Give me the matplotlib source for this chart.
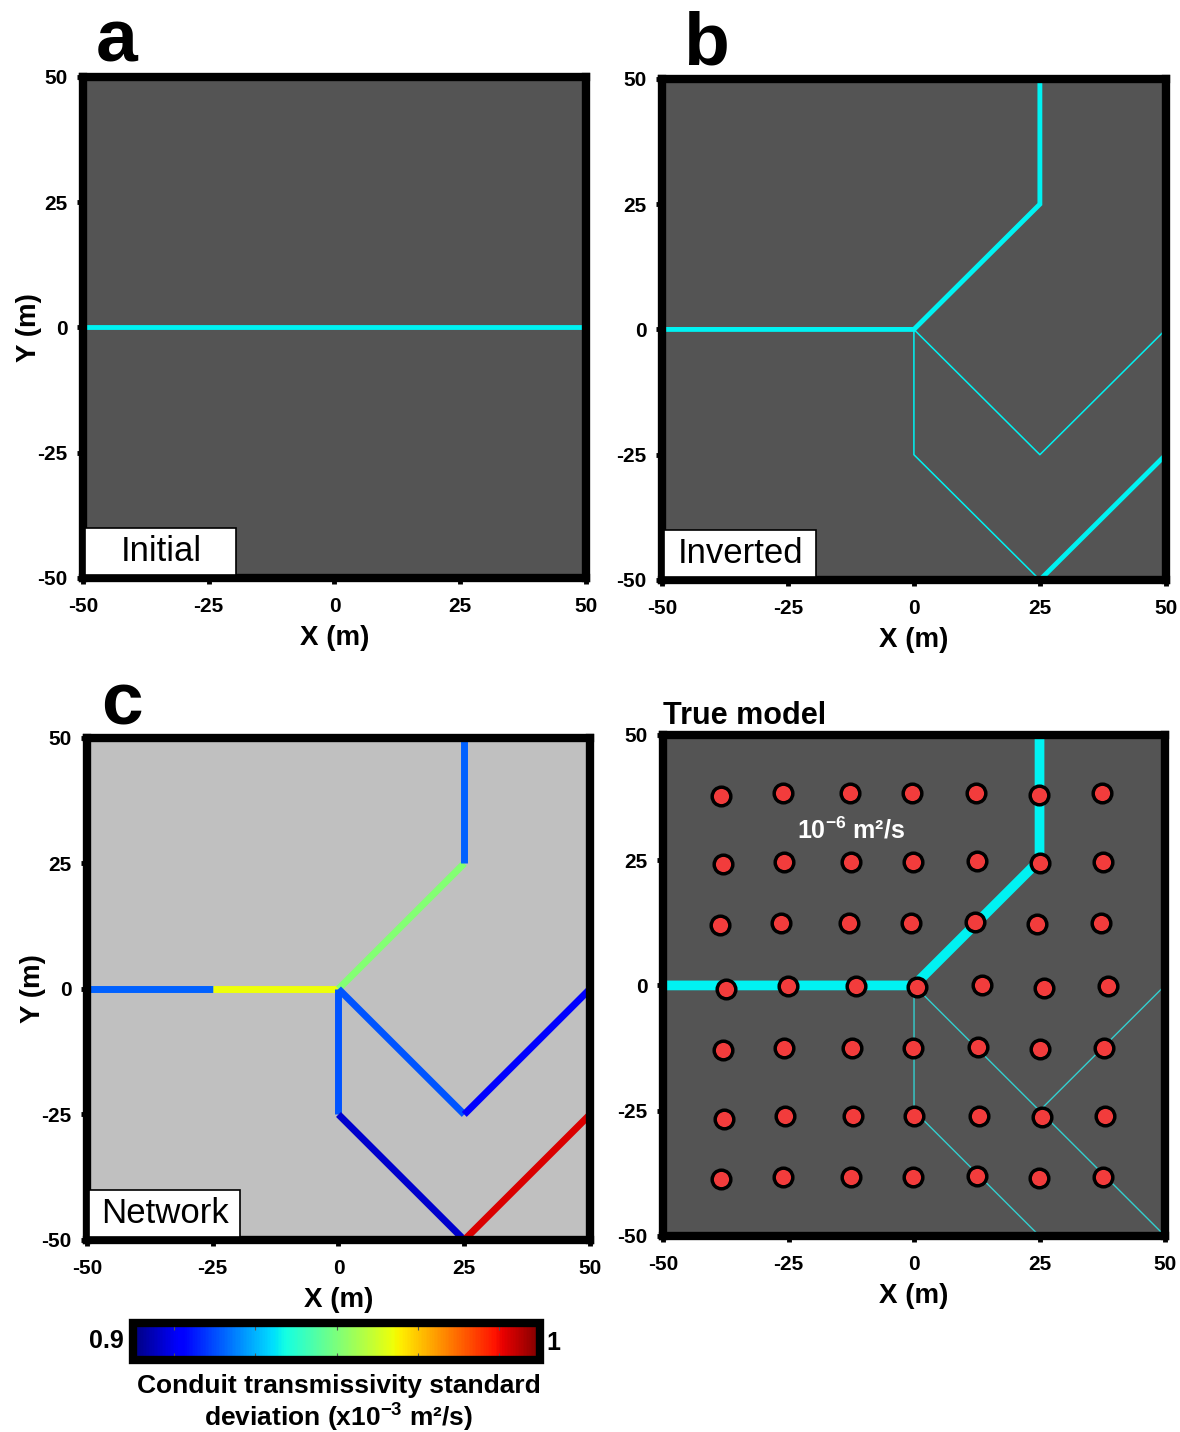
import numpy as np
import matplotlib
matplotlib.use("Agg")
from matplotlib import pyplot as plt
from matplotlib.collections import LineCollection
from matplotlib.patches import Rectangle

plt.rcParams['font.family'] = ['Liberation Sans', 'DejaVu Sans']
plt.rcParams['mathtext.fontset'] = 'custom'
plt.rcParams['mathtext.rm'] = 'Liberation Sans'
plt.rcParams['mathtext.bf'] = 'Liberation Sans:bold'
plt.rcParams['axes.unicode_minus'] = False

Ticks = [-50, -25, 0, 25, 50]
Cbar_ticks = [0.91, 0.93, 0.95, 0.97, 0.99]
Dark_bg = "#545454"
Light_bg = "#c0c0c0"
Cyan = "#00f2f2"

# panel a: initial conduit
initial_x = [-50, 50]
initial_y = [0, 0]

# network used in b and d
seg_main_x = [-50, 0, 25, 25]
seg_main_y = [0, 0, 25, 50]
seg_inv_thin = [[(0, 0), (0, -25), (25, -50)],
                [(0, 0), (25, -25), (50, 0)]]
seg_inv_thick = [[(25, -50), (50, -25)]]

# panel c: segments and their standard deviation values
net_segments = [[(-50, 0), (-25, 0)], [(-25, 0), (0, 0)], [(0, 0), (25, 25)],
                [(25, 25), (25, 50)], [(0, 0), (0, -25)], [(0, 0), (25, -25)],
                [(25, -25), (50, 0)], [(0, -25), (25, -50)], [(25, -50), (50, -25)]]
net_std = [0.922, 0.964, 0.951, 0.922, 0.921, 0.921, 0.912, 0.907, 0.992]

# panel d: true model
true_thin = [[(0, 0), (0, -25), (25, -50)],
             [(0, 0), (50, -50)],
             [(25, -25), (50, 0)]]
obs_x = [-38.4, -26.2, -12.7, -0.5, 12.4, 24.8, 37.5,
         -38.1, -26.0, -12.5, -0.2, 12.6, 25.1, 37.7,
         -38.7, -26.5, -12.9, -0.7, 12.1, 24.5, 37.3,
         -37.4, -25.2, -11.6, 0.6, 13.5, 25.9, 38.6,
         -38.1, -25.9, -12.3, -0.2, 12.7, 25.1, 37.8,
         -37.9, -25.7, -12.2, 0.0, 12.9, 25.4, 38.0,
         -38.4, -26.2, -12.6, -0.3, 12.5, 24.8, 37.6]
obs_y = [37.9, 38.4, 38.4, 38.4, 38.5, 38.0, 38.4,
         24.2, 24.7, 24.7, 24.7, 24.9, 24.4, 24.7,
         12.1, 12.4, 12.4, 12.4, 12.6, 12.3, 12.4,
         -0.7, -0.2, -0.2, -0.4, 0.0, -0.5, -0.2,
         -12.8, -12.5, -12.5, -12.5, -12.2, -12.6, -12.5,
         -26.6, -26.1, -26.1, -26.1, -26.0, -26.3, -26.1,
         -38.7, -38.3, -38.3, -38.3, -38.1, -38.5, -38.3]


def style_axes(ax, bg, ylabel=True):
    ax.set_facecolor(bg)
    ax.set_xlim(-50, 50)
    ax.set_ylim(-50, 50)
    ax.set_xticks(Ticks)
    ax.set_yticks(Ticks)
    ax.tick_params(direction='out', length=4, width=3.5, labelsize=15)
    ax.tick_params(axis='x', pad=10)
    ax.tick_params(axis='y', pad=7)
    for lab in ax.get_xticklabels() + ax.get_yticklabels():
        lab.set_fontweight('bold')
    for s in ax.spines.values():
        s.set_linewidth(6)
    ax.set_xlabel("X (m)", fontsize=20, fontweight='bold', labelpad=6)
    if ylabel:
        ax.set_ylabel("Y (m)", fontsize=20, fontweight='bold', labelpad=-3)


def label_box(ax, text):
    ax.add_patch(Rectangle((0.005, 0.006), 0.3, 0.094, transform=ax.transAxes,
                           facecolor='white', edgecolor='black', lw=1.2, zorder=5))
    ax.text(0.155, 0.052, text, transform=ax.transAxes, fontsize=25,
            ha='center', va='center', zorder=6)


fig = plt.figure(figsize=(11.8, 14.32), dpi=100)

# a
ax_a = fig.add_axes([0.0703, 0.5964, 0.4263, 0.3499])
style_axes(ax_a, Dark_bg)
ax_a.plot(initial_x, initial_y, color=Cyan, lw=3.5)
label_box(ax_a, "Initial")
fig.text(0.0992, 0.9707, "a", fontsize=54, fontweight='bold', ha='center', va='center')

# b
ax_b = fig.add_axes([0.561, 0.595, 0.427, 0.3499])
style_axes(ax_b, Dark_bg, ylabel=False)
ax_b.plot(seg_main_x, seg_main_y, color=Cyan, lw=3.5, solid_joinstyle='miter')
ax_b.add_collection(LineCollection(seg_inv_thin, colors=Cyan, lw=1.1))
ax_b.add_collection(LineCollection(seg_inv_thick, colors=Cyan, lw=3.5))
label_box(ax_b, "Inverted")
fig.text(0.598, 0.9686, "b", fontsize=54, fontweight='bold', ha='center', va='center')

# c
ax_c = fig.add_axes([0.0737, 0.1341, 0.4263, 0.3506])
style_axes(ax_c, Light_bg)
lc = LineCollection(net_segments, cmap='jet', lw=5, capstyle='butt')
lc.set_array(np.array(net_std))
lc.set_clim(0.9, 1.0)
ax_c.add_collection(lc)
label_box(ax_c, "Network")
fig.text(0.1034, 0.5077, "c", fontsize=54, fontweight='bold', ha='center', va='center')

# colorbar
cax = fig.add_axes([0.1127, 0.0503, 0.345, 0.0258])
cb = fig.colorbar(lc, cax=cax, orientation='horizontal')
cb.outline.set_linewidth(6)
cb.set_ticks(Cbar_ticks)
cax.tick_params(direction='in', length=5, width=0.8, color='#555555',
                top=True, bottom=True, labelbottom=False)
fig.text(0.105, 0.0632, "0.9", fontsize=18, fontweight='bold', ha='right', va='center')
fig.text(0.463, 0.0622, "1", fontsize=18, fontweight='bold', ha='left', va='center')
fig.text(0.287, 0.0323, "Conduit transmissivity standard", fontsize=19,
         fontweight='bold', ha='center', va='center')
fig.text(0.287, 0.0105, r"deviation (x10$^{\mathbf{-3}}$ m²/s)", fontsize=19,
         fontweight='bold', ha='center', va='center')

# d
ax_d = fig.add_axes([0.5619, 0.1369, 0.4254, 0.3499])
style_axes(ax_d, Dark_bg, ylabel=False)
ax_d.plot(seg_main_x, seg_main_y, color=Cyan, lw=7, solid_joinstyle='miter')
ax_d.add_collection(LineCollection(true_thin, colors="#33d0d0", lw=1.0))
ax_d.scatter(obs_x, obs_y, s=180, c="#f23c3c", edgecolors='black',
             linewidths=2.5, zorder=4)
ax_d.text(-12.5, 31, r"10$^{\mathbf{-6}}$ m²/s", color='white', fontsize=18,
          fontweight='bold', ha='center', va='center')
ax_d.set_title("True model", fontsize=22, fontweight='bold', loc='left', pad=8)

fig.savefig("out.png", dpi=100)
